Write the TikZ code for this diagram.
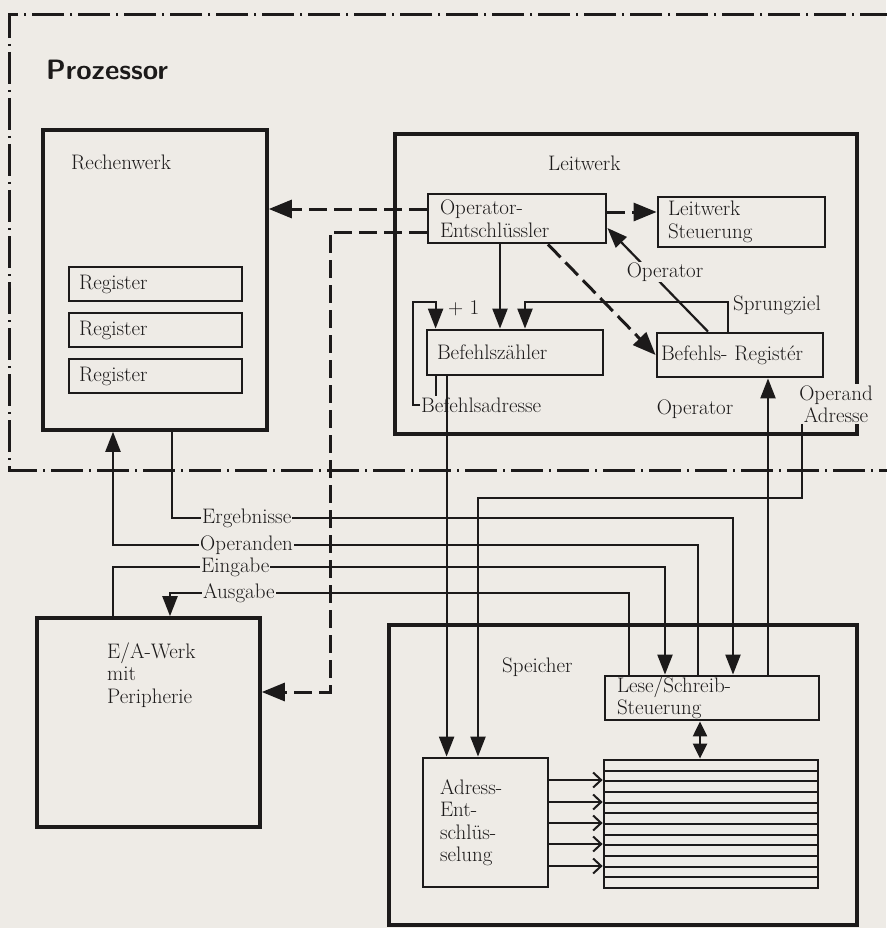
\documentclass[tikz,border=0pt]{standalone}
\usepackage{fontspec}
\usepackage{tikz}
\usetikzlibrary{arrows.meta}
\definecolor{paper}{RGB}{238,235,230}
\definecolor{ink}{RGB}{28,26,26}

\begin{document}
\begin{tikzpicture}[x=1pt, y=-1pt, ink,
  frame/.style={rectangle, draw, line width=3.6pt},
  unit/.style={rectangle, draw, line width=2.8pt, align=left, inner xsep=10pt, inner ysep=0pt, font=\fontsize{21}{22.5}\selectfont},
  lbl/.style={font=\fontsize{21}{22.5}\selectfont, inner sep=1pt},
  title/.style={font=\sffamily\bfseries\fontsize{28}{30}\selectfont, inner sep=0pt},
  wire/.style={line width=2.2pt},
  sig/.style={-{Triangle[length=20pt,width=15pt]}, line width=2.2pt},
  sigtwo/.style={{Triangle[length=15pt,width=14pt]}-{Triangle[length=15pt,width=14pt]}, line width=2.2pt},
  bar/.style={-{Straight Barb[length=8pt,width=15pt]}, line width=2pt},
  dsh/.style={line width=3pt, dash pattern=on 18pt off 7pt},
  dshar/.style={dsh, -{Triangle[length=23pt,width=18pt]}},
  bus/.style={line width=3pt, dash pattern=on 32pt off 6pt on 2pt off 6pt}
]
\useasboundingbox (0,0) rectangle (886,928);
\fill[paper] (0,0) rectangle (886,928);

% Prozessor
\draw[bus] (892,15) -- (9,15) -- (9,470) -- (892,470);
\node[title, anchor=west] (pz) at (46,70) {Prozessor};

% Rechenwerk
\node[frame, minimum width=224pt, minimum height=300pt] (rw) at (155,280) {};
\node[lbl, anchor=west] (rwt) at (70,162) {Rechenwerk};
\node[unit, text width=153pt, minimum height=34pt] (rg1) at (155.5,284) {Register};
\node[unit, text width=153pt, minimum height=34pt] (rg2) at (155.5,330) {Register};
\node[unit, text width=153pt, minimum height=34pt] (rg3) at (155.5,376) {Register};

% Leitwerk
\node[frame, minimum width=462pt, minimum height=300pt] (lw) at (626,284) {};
\node[lbl, anchor=west] (lwt) at (547,163) {Leitwerk};
\node[unit, inner xsep=12pt, text width=154pt, minimum height=49pt] (op) at (517,218.5) {Operator-\\Entschlüssler};
\node[unit, text width=147pt, minimum height=50pt] (lst) at (741.5,222) {Leitwerk\\Steuerung};
\node[unit, text width=156pt, minimum height=45pt] (bz) at (515,352.5) {Befehlszähler};
\node[unit, inner xsep=4pt, text width=158pt, minimum height=44pt] (br) at (740,355) {Befehls- Registér};

% E/A-Werk
\node[frame, minimum width=223pt, minimum height=209pt] (ea) at (148.5,722.5) {};
\node[lbl, anchor=west, align=left] (eat) at (106,675) {E/A-Werk\\mit\\Peripherie};

% Speicher
\node[frame, minimum width=468pt, minimum height=300pt] (sp) at (623,775) {};
\node[lbl, anchor=west] (spt) at (501,667) {Speicher};
\node[unit, inner xsep=12pt, text width=190pt, minimum height=44pt] (lsst) at (712,698) {Lese/Schreib-\\Steuerung};
\node[frame, line width=2.8pt, inner sep=0pt, minimum width=214pt, minimum height=128pt] (mem) at (711,824) {};
\node[unit, inner xsep=17pt, text width=91pt, minimum height=129pt] (ad) at (485.5,822.5) {Adress-\\Ent-\\schlüs-\\selung};
\foreach \k in {1,...,11}
  \draw[wire] (605,{760+\k*128/12}) -- (817,{760+\k*128/12});

% Steuerleitungen (gestrichelt)
\coordinate (ioc) at (330,692);
\draw[dshar] ([yshift=9.5pt]op.west) -- ([yshift=9.5pt]op.west -| rw.east);
\draw[dshar] ([yshift=-13.5pt]op.west) -| (ioc) -- (ioc -| ea.east);
\draw[dshar] ([yshift=6.5pt]op.east) -- ([yshift=6.5pt]op.east -| lst.west);
\draw[dshar] ([xshift=31pt]op.south) -- (br.west);

% im Leitwerk
\draw[sig] ([xshift=-17pt]op.south) -- ([xshift=-17pt]op.south |- bz.north);
\draw[sig] ([xshift=-32pt]br.north) -- ([yshift=-9.5pt]op.east);
\node[lbl, fill=paper] (opl) at (665,272) {Operator};
\draw[sig] ([xshift=-12pt]br.north) -- ++(0,-30) -| ([xshift=10pt]bz.north);
\node[lbl, anchor=west] (spz) at (732,305) {Sprungziel};
\node[lbl, anchor=west] (ba) at (420,405) {Befehlsadresse};
\coordinate (lp) at (413,302);
\draw[sig] (ba.west) -| (lp) -| ([xshift=10pt]bz.north west);
\node[lbl, anchor=west] (pl) at (447,308) {+ 1};
\draw[wire] ([xshift=10pt]bz.south west) -- ([xshift=10pt]bz.south west |- ba.north);
\draw[sig] ([xshift=21pt]bz.south west) -- ([xshift=21pt]bz.south west |- ad.north);

% Operator und Operand-Adresse
\node[lbl, align=center, fill=paper] (oa) at (836,404) {Operand\\Adresse};
\coordinate (oac) at (478,498);
\draw[sig] ([xshift=-34pt]oa.south) |- (oac) -- (oac |- ad.north);
\draw[sig] ([xshift=56pt]lsst.north) -- ([xshift=56pt]lsst.north |- br.south);
\node[lbl] (opu) at (695,409) {Operator};

% Datenwege
\coordinate (erg) at (733,518);
\coordinate (opd) at (113,545);
\coordinate (ein) at (665,567);
\coordinate (aus) at (170,593);
\draw[sig] ([xshift=17pt]rw.south) |- (erg) -- (erg |- lsst.north);
\draw[sig] ([xshift=-14pt]lsst.north) |- (opd) -- (opd |- rw.south);
\draw[sig] ([xshift=-35.5pt]ea.north) |- (ein) -- (ein |- lsst.north);
\draw[sig] ([xshift=-83pt]lsst.north) |- (aus) -- (aus |- ea.north);
\node[lbl, fill=paper, anchor=west] (ergl) at (201,518) {Ergebnisse};
\node[lbl, fill=paper, anchor=west] (opdl) at (199,545) {Operanden};
\node[lbl, fill=paper, anchor=west] (einl) at (200,567) {Eingabe};
\node[lbl, fill=paper, anchor=west] (ausl) at (202,593) {Ausgabe};

% Speicherzugriff
\draw[sigtwo] ([xshift=-12pt]lsst.south) -- ([xshift=-12pt]lsst.south |- mem.north);
\foreach \y in {780,802,823,844,866}
  \draw[bar] (ad.east |- 0,\y) -- (mem.west |- 0,\y);
\end{tikzpicture}
\end{document}
